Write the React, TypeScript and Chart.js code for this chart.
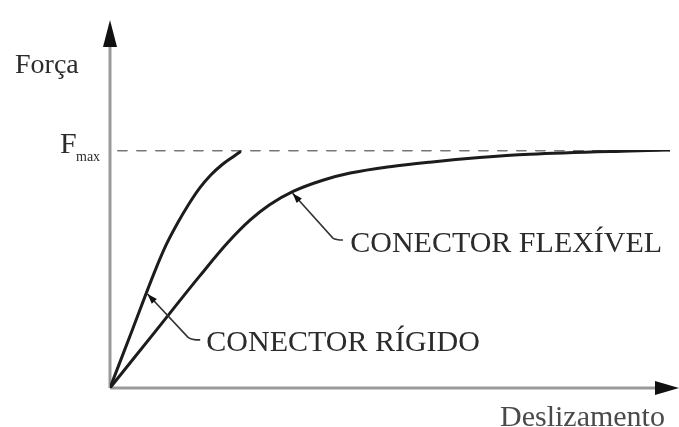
import React, { useEffect, useRef } from "react";
import { Chart, registerables } from "chart.js";

Chart.register(...registerables);

// Força x deslizamento: rigid and flexible shear connectors
const rigidX = [0, 4, 8, 10, 12, 14, 16, 18, 20, 22, 23.2];
const rigidY = [0, 24.5, 49, 60, 69, 77, 84, 89.5, 93.8, 97.2, 99.2];
const flexX = [0, 8, 16, 21, 25, 28.5, 32.7, 38, 42.9, 50, 57.1, 66, 75, 92.9, 100];
const flexY = [0, 23.5, 47, 61, 70.5, 77, 82.6, 87.3, 90.3, 93, 94.9, 96.8, 98.2, 99.6, 100];
const fMax = 100;
const xMax = 100;

const labelForce = "Força";
const labelSlip = "Deslizamento";
const labelRigid = "CONECTOR RÍGIDO";
const labelFlex = "CONECTOR FLEXÍVEL";

// leader lines: [tip on curve, elbow, end] in data units, then text anchor
const rigidLeader = [
  [6.7, 39.5],
  [13.9, 21.4],
  [16.1, 20.2],
];
const rigidText = [17.2, 18.7];
const flexLeader = [
  [32.6, 81.8],
  [39.8, 63.0],
  [41.6, 62.2],
];
const flexText = [42.9, 60.4];

const toPts = (xs: number[], ys: number[]) => xs.map((x, i) => ({ x, y: ys[i] }));

const SERIF = "'Liberation Serif', 'DejaVu Serif', serif";
const INK = "#2b2b2b";

const decorations = {
  id: "decorations",
  beforeDatasetsDraw(chart: any) {
    const { ctx } = chart;
    const xs = chart.scales.x;
    const ys = chart.scales.y;
    const ox = xs.getPixelForValue(0);
    const oy = ys.getPixelForValue(0);
    ctx.save();
    // axes
    ctx.strokeStyle = "#9a9a9a";
    ctx.lineWidth = 3;
    ctx.beginPath();
    ctx.moveTo(ox, oy);
    ctx.lineTo(ox, 40);
    ctx.moveTo(ox, oy);
    ctx.lineTo(chart.width - 20, oy);
    ctx.stroke();
    // arrow heads
    ctx.fillStyle = "#111";
    ctx.beginPath();
    ctx.moveTo(ox, 20);
    ctx.lineTo(ox - 7, 47);
    ctx.lineTo(ox + 7, 47);
    ctx.closePath();
    ctx.fill();
    ctx.beginPath();
    ctx.moveTo(chart.width, oy);
    ctx.lineTo(chart.width - 24, oy - 7);
    ctx.lineTo(chart.width - 24, oy + 7);
    ctx.closePath();
    ctx.fill();
    ctx.restore();
  },
  afterDatasetsDraw(chart: any) {
    const { ctx } = chart;
    const xs = chart.scales.x;
    const ys = chart.scales.y;
    const px = (p: number[]) => [xs.getPixelForValue(p[0]), ys.getPixelForValue(p[1])];
    const ox = xs.getPixelForValue(0);
    const oy = ys.getPixelForValue(0);
    const fy = ys.getPixelForValue(fMax);
    ctx.save();
    ctx.fillStyle = INK;
    ctx.textBaseline = "alphabetic";
    ctx.textAlign = "left";

    ctx.font = `28px ${SERIF}`;
    ctx.fillText(labelForce, ox - 95, 73);

    ctx.font = `30px ${SERIF}`;
    ctx.fillText("F", ox - 50, fy + 3);
    ctx.font = `14px ${SERIF}`;
    ctx.fillText("max", ox - 34, fy + 11);

    ctx.font = `30px ${SERIF}`;
    ctx.fillStyle = "#4a4a4a";
    ctx.fillText(labelSlip, 500, oy + 38);

    const leader = (pts: number[][], text: number[], label: string) => {
      const p = pts.map(px);
      ctx.strokeStyle = "#333";
      ctx.lineWidth = 1.6;
      ctx.beginPath();
      ctx.moveTo(p[0][0], p[0][1]);
      ctx.lineTo(p[1][0], p[1][1]);
      ctx.quadraticCurveTo(p[1][0] + 3, p[2][1], p[2][0], p[2][1]);
      ctx.stroke();
      // small arrow head at the curve
      const ang = Math.atan2(p[0][1] - p[1][1], p[0][0] - p[1][0]);
      const L = 10;
      const W = 3.5;
      ctx.fillStyle = "#111";
      ctx.beginPath();
      ctx.moveTo(p[0][0], p[0][1]);
      ctx.lineTo(
        p[0][0] - L * Math.cos(ang) + W * Math.sin(ang),
        p[0][1] - L * Math.sin(ang) - W * Math.cos(ang)
      );
      ctx.lineTo(
        p[0][0] - L * Math.cos(ang) - W * Math.sin(ang),
        p[0][1] - L * Math.sin(ang) + W * Math.cos(ang)
      );
      ctx.closePath();
      ctx.fill();
      const t = px(text);
      ctx.fillStyle = INK;
      ctx.font = `30px ${SERIF}`;
      ctx.textBaseline = "middle";
      ctx.fillText(label, t[0], t[1]);
      ctx.textBaseline = "alphabetic";
    };
    leader(rigidLeader, rigidText, labelRigid);
    leader(flexLeader, flexText, labelFlex);
    ctx.restore();
  },
};

export default function App() {
  const ref = useRef<HTMLCanvasElement | null>(null);
  useEffect(() => {
    if (!ref.current) return;
    const chart = new Chart(ref.current, {
      type: "line",
      data: {
        datasets: [
          {
            label: "Conector rígido",
            data: toPts(rigidX, rigidY),
            borderColor: "#1c1c1c",
            borderWidth: 3,
            pointRadius: 0,
            cubicInterpolationMode: "monotone",
            fill: false,
          },
          {
            label: "Conector flexível",
            data: toPts(flexX, flexY),
            borderColor: "#1c1c1c",
            borderWidth: 3,
            pointRadius: 0,
            cubicInterpolationMode: "monotone",
            fill: false,
          },
          {
            label: "Fmax",
            data: [
              { x: 1.5, y: fMax },
              { x: xMax, y: fMax },
            ],
            borderColor: "#777777",
            borderWidth: 3,
            borderDash: [8, 11],
            pointRadius: 0,
            fill: false,
          },
        ],
      },
      options: {
        responsive: false,
        animation: false,
        devicePixelRatio: 1,
        layout: { padding: { left: 110, right: 9, top: 150, bottom: 39 } },
        plugins: { legend: { display: false }, tooltip: { enabled: false } },
        events: [],
        scales: {
          x: { type: "linear", min: 0, max: xMax, display: false },
          y: { type: "linear", min: 0, max: 100, display: false },
        },
        elements: { line: { borderCapStyle: "round" } },
      },
      plugins: [decorations],
    } as any);
    return () => chart.destroy();
  }, []);
  return (
    <div style={{ position: "fixed", left: 0, top: 0, width: 679, height: 427, background: "#fff" }}>
      <canvas ref={ref} width={679} height={427} style={{ display: "block" }} />
    </div>
  );
}
